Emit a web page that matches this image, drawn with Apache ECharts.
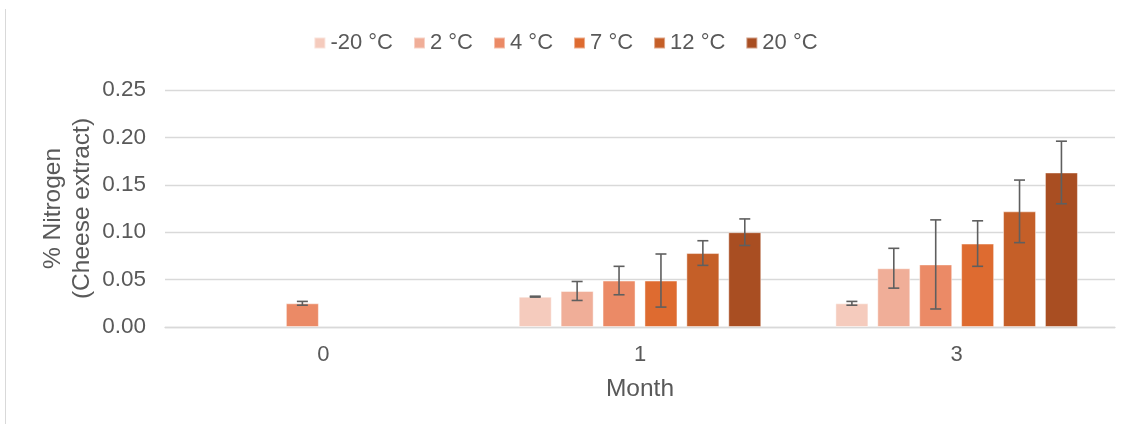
<!DOCTYPE html>
<html>
<head>
<meta charset="utf-8">
<script src="https://cdn.jsdelivr.net/npm/echarts@6/dist/echarts.min.js"></script>
<style>
  html, body { margin: 0; padding: 0; background: #fff; }
  #chart { width: 1131px; height: 430px; }
</style>
</head>
<body>
<div id="chart"></div>
<script>
// Months of storage on the x axis
const months = ['0', '1', '3'];
// Storage temperatures (one bar series each)
const temps = ['-20 °C', '2 °C', '4 °C', '7 °C', '12 °C', '20 °C'];
const colors = ['#F5CBBD', '#F0AE98', '#EB8A66', '#DE6B30', '#C55F28', '#A94E22'];

// % nitrogen in cheese extract, per month (null = not measured)
const nMinus20 = [null, 0.032, 0.025];
const n2 = [null, 0.038, 0.062];
const n4 = [0.025, 0.049, 0.066];
const n7 = [null, 0.049, 0.088];
const n12 = [null, 0.078, 0.122];
const n20 = [null, 0.100, 0.163];

// Standard deviations for the error bars
const sdMinus20 = [null, 0.0005, 0.002];
const sd2 = [null, 0.010, 0.021];
const sd4 = [0.002, 0.015, 0.047];
const sd7 = [null, 0.028, 0.024];
const sd12 = [null, 0.013, 0.033];
const sd20 = [null, 0.014, 0.033];

const yTicks = [0, 0.05, 0.10, 0.15, 0.20, 0.25];

const values = [nMinus20, n2, n4, n7, n12, n20];
const sds = [sdMinus20, sd2, sd4, sd7, sd12, sd20];

const FONT = "'Liberation Sans', Arial, sans-serif";
const TEXT = '#595959';
const BAR_W = 33;
const BAR_GAP = 0.27;

const chart = echarts.init(document.getElementById('chart'));

const barSeries = temps.map((name, i) => ({
  name: name,
  type: 'bar',
  data: values[i],
  barWidth: BAR_W,
  barGap: (BAR_GAP * 100) + '%',
  itemStyle: { color: colors[i], borderColor: 'rgba(255,255,255,0.45)', borderWidth: 1 },
  emphasis: { disabled: true },
  z: 2
}));

const nSeries = temps.length;
const errSeries = temps.map((name, i) => ({
  name: 'sd ' + name,
  type: 'custom',
  z: 5,
  data: values[i].map((v, k) => v == null ? null : [k, v, sds[i][k]]).filter(d => d),
  encode: { x: 0, y: 1 },
  renderItem: function (params, api) {
    const k = api.value(0);
    const v = api.value(1);
    const sd = api.value(2);
    const step = BAR_W * (1 + BAR_GAP);
    const center = api.coord([k, v])[0] + (i - (nSeries - 1) / 2) * step;
    const yHi = api.coord([k, v + sd])[1];
    const yLo = api.coord([k, v - sd])[1];
    const half = 5.5;
    const style = { stroke: '#5F5F5F', lineWidth: 1.6, fill: null };
    return {
      type: 'group',
      children: [
        { type: 'line', shape: { x1: center, y1: yHi, x2: center, y2: yLo }, style: style },
        { type: 'line', shape: { x1: center - half, y1: yHi, x2: center + half, y2: yHi }, style: style },
        { type: 'line', shape: { x1: center - half, y1: yLo, x2: center + half, y2: yLo }, style: style }
      ]
    };
  }
}));

chart.setOption({
  animation: false,
  backgroundColor: '#fff',
  textStyle: { fontFamily: FONT },
  graphic: [{
    type: 'line',
    shape: { x1: 5.5, y1: 9, x2: 5.5, y2: 424 },
    style: { stroke: '#D9D9D9', lineWidth: 1 }
  }],
  legend: {
    data: temps,
    top: 27,
    left: 'center',
    icon: 'rect',
    itemWidth: 11,
    itemHeight: 11,
    itemGap: 20,
    textStyle: { color: TEXT, fontSize: 22, fontFamily: FONT }
  },
  grid: { left: 165, right: 16, top: 90, bottom: 103, containLabel: false },
  xAxis: {
    type: 'category',
    data: months,
    axisTick: { show: false },
    axisLine: { lineStyle: { color: '#D9D9D9', width: 1.3 } },
    axisLabel: { color: TEXT, fontSize: 22, margin: 17, fontFamily: FONT },
    name: 'Month',
    nameLocation: 'middle',
    nameGap: 50,
    nameMoveOverlap: false,
    nameTextStyle: { color: TEXT, fontSize: 24.5, fontFamily: FONT }
  },
  yAxis: {
    type: 'value',
    min: yTicks[0],
    max: yTicks[yTicks.length - 1],
    interval: 0.05,
    axisLine: { show: false },
    axisTick: { show: false },
    splitLine: { lineStyle: { color: '#D9D9D9', width: 1.3 } },
    axisLabel: { color: TEXT, fontSize: 22.5, margin: 19, fontFamily: FONT, formatter: v => v.toFixed(2) },
    name: '% Nitrogen\n(Cheese extract)',
    nameLocation: 'middle',
    nameRotate: 90,
    nameGap: 68,
    nameMoveOverlap: false,
    nameTextStyle: { color: TEXT, fontSize: 24.5, lineHeight: 29, fontFamily: FONT }
  },
  series: barSeries.concat(errSeries)
});
</script>
</body>
</html>
